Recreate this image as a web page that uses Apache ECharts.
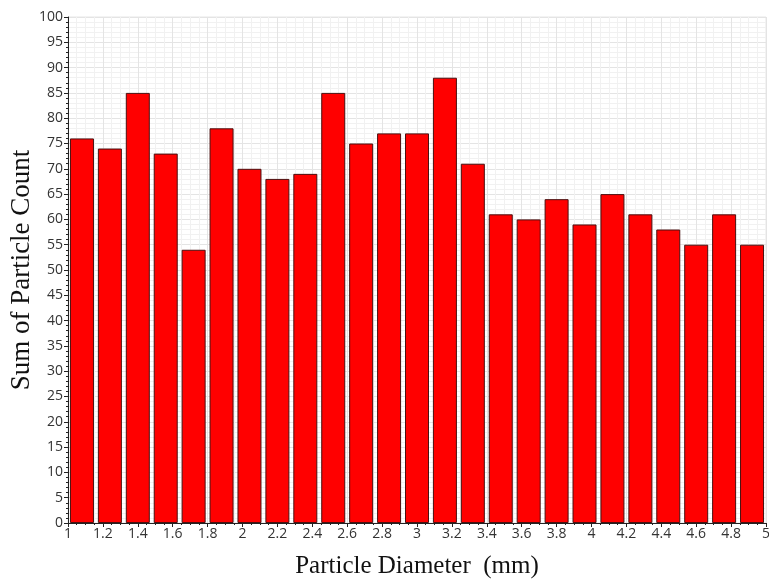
<!DOCTYPE html>
<html>
<head>
<meta charset="utf-8">
<script src="https://cdn.jsdelivr.net/npm/echarts@6/dist/echarts.min.js"></script>
<style>
  html, body { margin: 0; padding: 0; background: #fff; }
  #chart { width: 769px; height: 579px; }
</style>
</head>
<body>
<div id="chart"></div>
<script>
// Bin centres of each particle-diameter class (mm)
const diameters = [1.08, 1.24, 1.40, 1.56, 1.72, 1.88, 2.04, 2.20, 2.36, 2.52,
                   2.68, 2.84, 3.00, 3.16, 3.32, 3.48, 3.64, 3.80, 3.96, 4.12,
                   4.28, 4.44, 4.60, 4.76, 4.92];
// Particle count summed per class
const counts = [76, 74, 85, 73, 54, 78, 70, 68, 69, 85,
                75, 77, 77, 88, 71, 61, 60, 64, 59, 65,
                61, 58, 55, 61, 55];

const xTitle = 'Particle Diameter  (mm)';
const yTitle = 'Sum of Particle Count';

const chart = echarts.init(document.getElementById('chart'), null, { renderer: 'canvas' });

const tickFont = { fontFamily: 'Open Sans', fontSize: 14, color: '#333' };

chart.setOption({
  animation: false,
  backgroundColor: '#fff',
  grid: { left: 68, right: 3, top: 17, bottom: 56, containLabel: false,
          outerBoundsMode: 'none',
          show: true, borderColor: '#e6e6e6', borderWidth: 1 },
  xAxis: {
    type: 'value',
    min: 1, max: 5, interval: 0.2,
    name: xTitle,
    nameLocation: 'middle',
    nameGap: 31,
    nameMoveOverlap: false,
    nameTextStyle: { fontFamily: 'Liberation Serif', fontSize: 25, color: '#111' },
    axisLine: { show: true, onZero: false, lineStyle: { color: '#222', width: 1 } },
    axisTick: { show: true, length: 4, lineStyle: { color: '#222' } },
    minorTick: { show: true, splitNumber: 4, length: 2, lineStyle: { color: '#222' } },
    axisLabel: Object.assign({ margin: 4, showMinLabel: true, showMaxLabel: true,
                               formatter: v => String(+v.toFixed(1)) }, tickFont),
    splitLine: { show: true, lineStyle: { color: '#e4e4e4', width: 1 } },
    minorSplitLine: { show: true, lineStyle: { color: '#f1f1f1', width: 1 } }
  },
  yAxis: {
    type: 'value',
    min: 0, max: 100, interval: 5,
    name: yTitle,
    nameLocation: 'middle',
    nameGap: 33,
    nameMoveOverlap: false,
    nameTextStyle: { fontFamily: 'Liberation Serif', fontSize: 27, color: '#111' },
    axisLine: { show: true, lineStyle: { color: '#222', width: 1 } },
    axisTick: { show: true, length: 4, lineStyle: { color: '#222' } },
    minorTick: { show: true, splitNumber: 5, length: 2, lineStyle: { color: '#222' } },
    axisLabel: Object.assign({ margin: 5 }, tickFont),
    splitLine: { show: true, lineStyle: { color: '#e4e4e4', width: 1 } },
    minorSplitLine: { show: true, lineStyle: { color: '#f1f1f1', width: 1 } }
  },
  series: [{
    type: 'bar',
    data: diameters.map((d, i) => [d, counts[i]]),
    barWidth: 24,
    itemStyle: { color: '#ff0000', borderColor: '#4a1010', borderWidth: 1 },
    emphasis: { disabled: true }
  }]
});
</script>
</body>
</html>
